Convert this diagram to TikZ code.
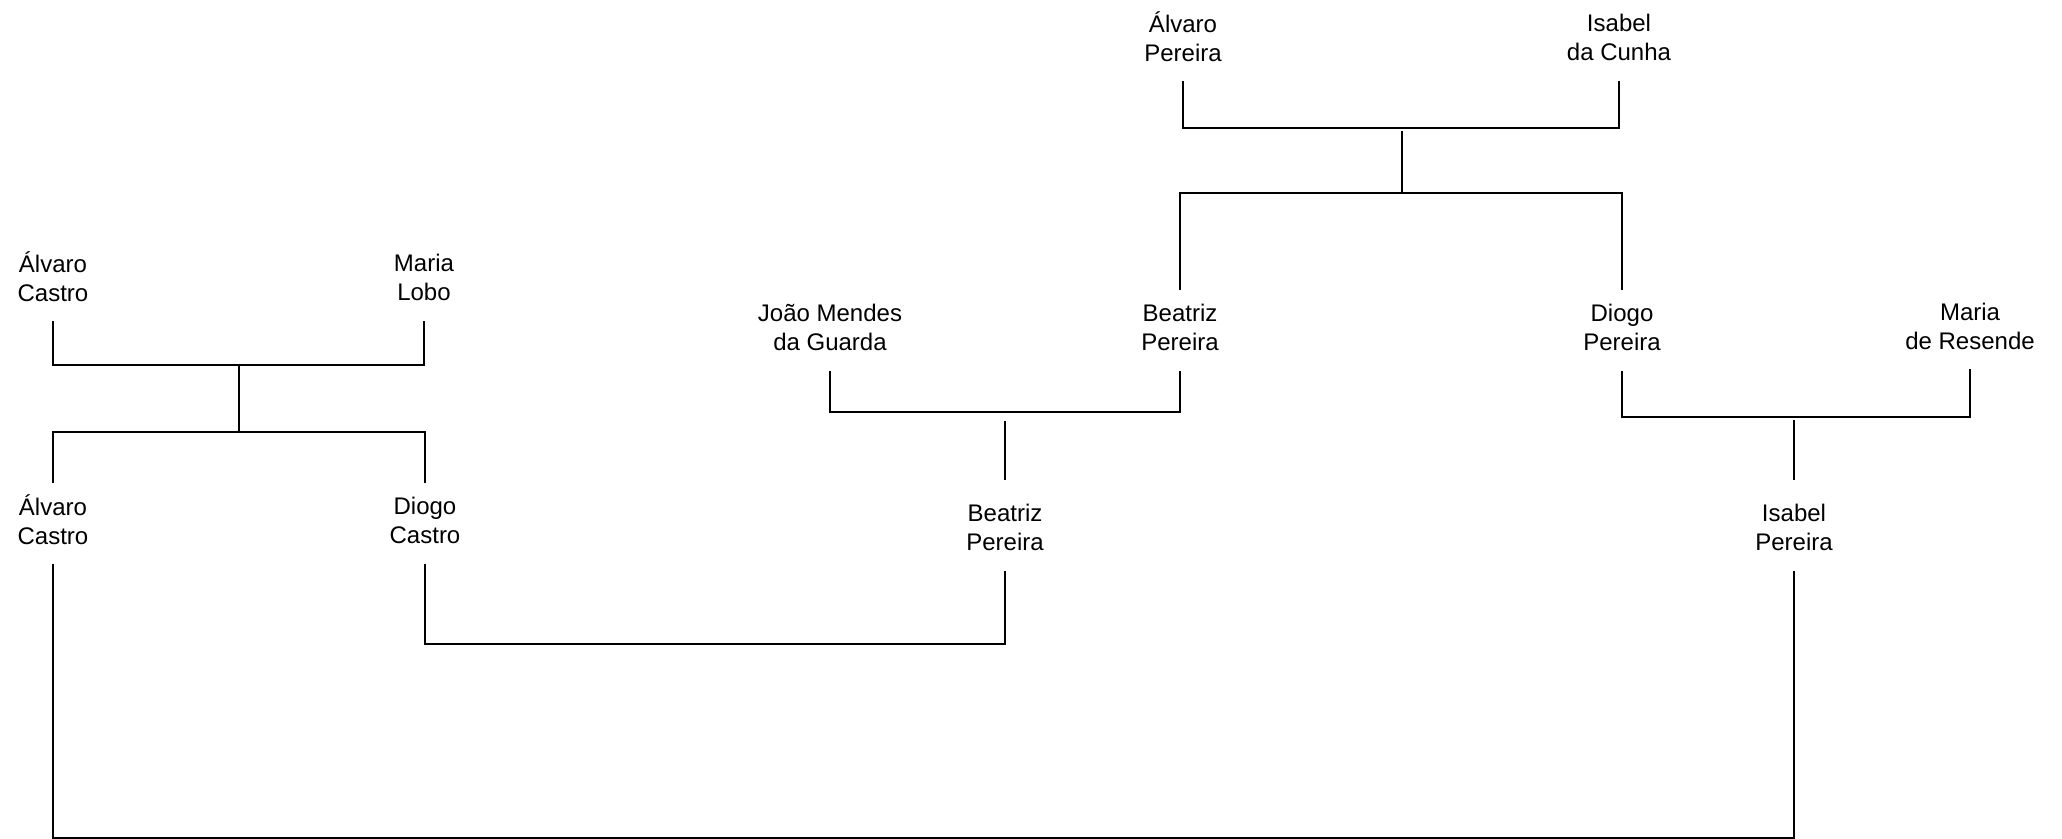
\documentclass[tikz,border=0pt]{standalone}
\usepackage{fontspec}
\setmainfont{Liberation Sans}
\usetikzlibrary{calc}
\newcommand{\twoline}[2]{\strut#1\\\strut#2}

\begin{document}
\begin{tikzpicture}[x=0.5pt,y=-0.5pt,
  person/.style={align=center,inner xsep=2pt,inner ysep=5.5pt,
    font=\fontsize{12}{14.5}\selectfont},
  link/.style={line width=0.6pt,black}]
  \useasboundingbox (0,0) rectangle (2062,839);

  % Castro family
  \node[person] (acA) at (53,280.5) {\twoline{Álvaro}{Castro}};
  \node[person] (ml) at (424,280.5) {\twoline{Maria}{Lobo}};
  \node[person] (acB) at (53,523.5) {\twoline{Álvaro}{Castro}};
  \node[person] (dc) at (425,523.5) {\twoline{Diogo}{Castro}};

  % Pereira family
  \node[person] (ap) at (1183,40.5) {\twoline{Álvaro}{Pereira}};
  \node[person] (ic) at (1619,40.5) {\twoline{Isabel}{da Cunha}};
  \node[person] (jm) at (830,330.5) {\twoline{João Mendes}{da Guarda}};
  \node[person] (bpA) at (1180,330.5) {\twoline{Beatriz}{Pereira}};
  \node[person] (dp) at (1622,330.5) {\twoline{Diogo}{Pereira}};
  \node[person] (mr) at (1970,329) {\twoline{Maria}{de Resende}};
  \node[person] (bpB) at (1005,530.5) {\twoline{Beatriz}{Pereira}};
  \node[person] (ip) at (1794,530.5) {\twoline{Isabel}{Pereira}};

  \coordinate (castroCpl) at (239,365);
  \coordinate (castroSib) at (239,432);
  \coordinate (pereiraCpl) at (1402,128);
  \coordinate (pereiraSib) at (1402,193);
  \coordinate (mendesCpl) at (1005,412);
  \coordinate (resendeCpl) at (1794,417);
  \coordinate (dcBar) at (715,644);
  \coordinate (acBar) at (923,838);

  \draw[link] (acA.south) |- (castroCpl) -| (ml.south);
  \draw[link] (castroCpl) -- (castroSib);
  \draw[link] (acB.north) |- (castroSib) -| (dc.north);

  \draw[link] (ap.south) |- (pereiraCpl) -| (ic.south);
  \draw[link] ([yshift=-1.5pt]pereiraCpl) -- (pereiraSib);
  \draw[link] (bpA.north) |- (pereiraSib) -| (dp.north);

  \draw[link] (jm.south) |- (mendesCpl) -| (bpA.south);
  \draw[link,shorten >=5pt] ([yshift=-4.5pt]mendesCpl) -- (mendesCpl |- bpB.north);
  \draw[link] (dp.south) |- (resendeCpl) -| (mr.south);
  \draw[link,shorten >=5pt] ([yshift=-1.5pt]resendeCpl) -- (resendeCpl |- ip.north);

  % marriages of the next generation
  \draw[link] (dc.south) |- (dcBar) -| (bpB.south);
  \draw[link] (acB.south) |- (acBar) -| (ip.south);
\end{tikzpicture}
\end{document}
